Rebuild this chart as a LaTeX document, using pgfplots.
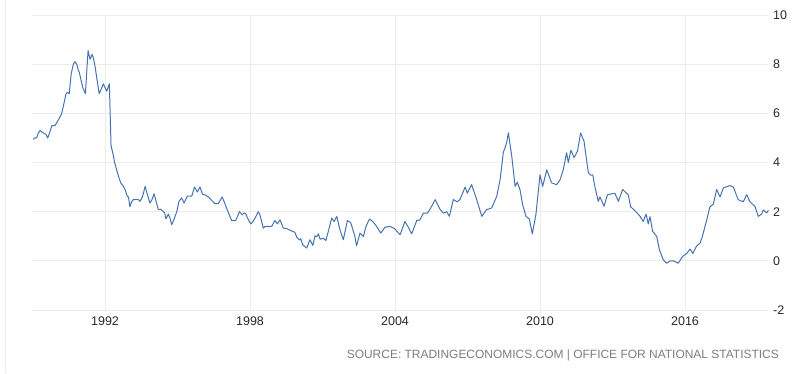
\documentclass[border=0pt]{standalone}
\usepackage{pgfplots}
\pgfplotsset{compat=1.18}
\usepackage{pgfplotstable}
\usepackage{fontspec}
\setmainfont{Liberation Sans}
\definecolor{linec}{RGB}{70,115,175}
\definecolor{gridc}{RGB}{236,236,236}
\definecolor{srcc}{RGB}{125,125,125}
\definecolor{tickc}{RGB}{40,40,40}
\pgfplotstableread{
yr val
1989.03 4.94
1989.10 5.0
1989.17 5.0
1989.24 5.2
1989.31 5.3
1989.45 5.2
1989.55 5.15
1989.63 5.0
1989.72 5.25
1989.80 5.5
1989.93 5.5
1990.05 5.7
1990.14 5.85
1990.21 6.0
1990.30 6.4
1990.39 6.8
1990.45 6.85
1990.52 6.8
1990.60 7.6
1990.69 8.0
1990.76 8.1
1990.83 8.0
1990.88 7.8
1990.94 7.65
1991.02 7.3
1991.08 7.05
1991.19 6.8
1991.25 7.8
1991.30 8.55
1991.38 8.2
1991.47 8.4
1991.53 8.2
1991.59 7.9
1991.68 7.3
1991.76 6.8
1991.85 7.0
1991.93 7.2
1992.00 7.05
1992.07 6.9
1992.18 7.2
1992.25 4.67
1992.32 4.4
1992.40 4.0
1992.48 3.71
1992.57 3.4
1992.65 3.17
1992.75 3.05
1992.83 2.9
1992.92 2.63
1992.97 2.6
1993.03 2.2
1993.10 2.4
1993.17 2.49
1993.31 2.5
1993.40 2.48
1993.45 2.42
1993.55 2.6
1993.66 3.03
1993.75 2.7
1993.86 2.35
1993.95 2.5
1994.03 2.73
1994.12 2.4
1994.21 2.08
1994.30 2.1
1994.41 2.01
1994.47 1.95
1994.52 1.71
1994.62 1.9
1994.70 1.7
1994.76 1.47
1994.86 1.7
1994.97 2.0
1995.06 2.42
1995.17 2.56
1995.27 2.35
1995.34 2.5
1995.41 2.63
1995.59 2.63
1995.70 3.0
1995.82 2.8
1995.93 3.0
1996.04 2.7
1996.15 2.68
1996.28 2.6
1996.42 2.45
1996.55 2.33
1996.69 2.33
1996.85 2.6
1996.95 2.35
1997.03 2.15
1997.13 1.9
1997.24 1.64
1997.41 1.64
1997.48 1.8
1997.56 2.0
1997.68 1.87
1997.75 1.95
1997.82 1.92
1997.92 1.7
1998.03 1.5
1998.12 1.6
1998.21 1.74
1998.34 2.0
1998.41 1.88
1998.48 1.6
1998.55 1.33
1998.62 1.4
1998.72 1.4
1998.90 1.4
1999.03 1.64
1999.13 1.5
1999.24 1.67
1999.38 1.33
1999.50 1.32
1999.66 1.24
1999.86 1.16
1999.93 0.97
2000.04 0.85
2000.10 0.9
2000.18 0.65
2000.35 0.52
2000.48 0.86
2000.60 0.63
2000.69 1.02
2000.76 0.98
2000.83 1.1
2000.90 0.88
2001.03 0.92
2001.14 0.83
2001.24 1.2
2001.38 1.74
2001.48 1.6
2001.59 1.81
2001.72 1.27
2001.86 0.86
2002.03 1.64
2002.17 1.55
2002.34 0.99
2002.41 0.61
2002.55 1.13
2002.69 0.99
2002.80 1.4
2002.94 1.7
2003.08 1.6
2003.24 1.4
2003.41 1.13
2003.59 1.37
2003.79 1.4
2003.90 1.35
2004.00 1.29
2004.21 1.06
2004.41 1.6
2004.55 1.37
2004.69 1.1
2004.90 1.64
2005.03 1.66
2005.17 1.94
2005.34 1.94
2005.48 2.15
2005.66 2.49
2005.86 2.1
2006.00 1.94
2006.14 2.0
2006.25 1.81
2006.41 2.49
2006.58 2.4
2006.69 2.5
2006.90 3.0
2006.99 2.75
2007.17 3.1
2007.38 2.49
2007.59 1.81
2007.79 2.08
2008.00 2.15
2008.21 2.63
2008.35 3.31
2008.48 4.4
2008.62 4.8
2008.69 5.21
2008.83 4.26
2008.97 3.03
2009.06 3.2
2009.17 2.9
2009.28 2.29
2009.42 1.81
2009.56 1.7
2009.68 1.1
2009.83 1.88
2010.00 3.5
2010.11 3.03
2010.28 3.7
2010.48 3.17
2010.69 3.1
2010.83 3.3
2010.96 3.7
2011.10 4.4
2011.17 4.0
2011.28 4.5
2011.41 4.2
2011.55 4.46
2011.68 5.2
2011.82 4.87
2012.00 3.58
2012.10 3.48
2012.18 3.5
2012.28 2.97
2012.41 2.42
2012.48 2.6
2012.65 2.22
2012.79 2.69
2013.10 2.75
2013.24 2.42
2013.42 2.9
2013.65 2.69
2013.75 2.2
2013.97 2.0
2014.14 1.81
2014.27 1.6
2014.39 1.9
2014.48 1.5
2014.55 1.8
2014.66 1.2
2014.83 0.99
2014.94 0.45
2015.10 0.04
2015.24 -0.1
2015.38 0.0
2015.52 0.0
2015.72 -0.1
2015.90 0.18
2016.07 0.3
2016.21 0.48
2016.32 0.3
2016.48 0.6
2016.62 0.72
2016.72 1.0
2016.90 1.67
2017.03 2.2
2017.17 2.3
2017.31 2.9
2017.45 2.6
2017.59 2.97
2017.86 3.06
2018.00 3.0
2018.20 2.49
2018.41 2.4
2018.55 2.69
2018.69 2.4
2018.90 2.2
2019.03 1.81
2019.17 1.9
2019.24 2.07
2019.38 1.95
2019.45 2.05
}\cpidata
\begin{document}
\begin{tikzpicture}[x=1pt,y=1pt]
\useasboundingbox (0,0) rectangle (800,373);
\draw[gridc, line width=0.6pt] (5,0) -- (5,373);
\begin{axis}[
  at={(32pt,63pt)}, anchor=south west,
  scale only axis, width=736pt, height=295pt,
  xmin=1988.979, xmax=2019.434, ymin=-2, ymax=10,
  axis line style={draw=none},
  major tick length=0pt,
  xtick={1992,1998,2004,2010,2016},
  xticklabels={1992,1998,2004,2010,2016},
  ytick={-2,0,2,4,6,8,10},
  yticklabels={-2,0,2,4,6,8,10},
  yticklabel pos=right,
  grid=major,
  major grid style={gridc, line width=0.7pt},
  ticklabel style={font=\fontsize{12.5}{14}\selectfont, text=tickc},
  yticklabel style={anchor=west, inner sep=0pt, xshift=5pt},
  xticklabel style={anchor=north, inner sep=0pt, yshift=-7pt},
  clip=false,
]
\addplot[linec, line width=1pt, line join=round] table[x=yr, y=val] {\cpidata};
\end{axis}
\node[anchor=east, inner sep=0pt, text=srcc] at (779,18) {\resizebox{432pt}{!}{\fontsize{12}{14}\selectfont SOURCE: TRADINGECONOMICS.COM | OFFICE FOR NATIONAL STATISTICS}};
\end{tikzpicture}
\end{document}
